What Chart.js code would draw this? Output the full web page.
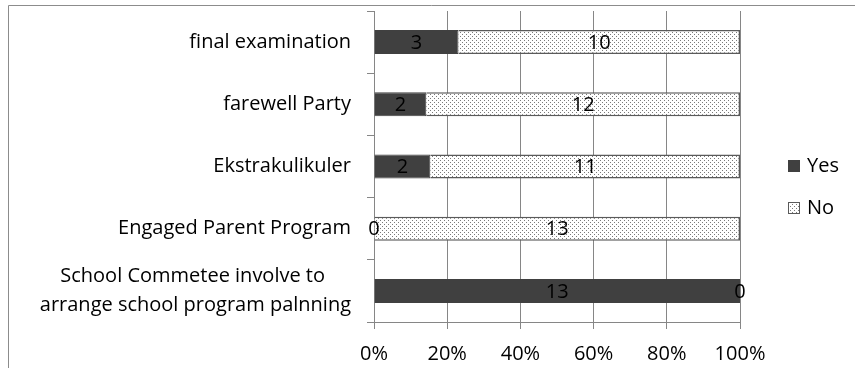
<!DOCTYPE html>
<html>
<head>
<meta charset="utf-8">
<script src="https://cdn.jsdelivr.net/npm/chart.js@4.4.0/dist/chart.umd.min.js"></script>
<style>
  body { margin: 0; background: #fff; }
  #wrap { position: absolute; left: 0; top: 0; width: 855px; height: 368px; }
</style>
</head>
<body>
<div id="wrap"><canvas id="grafico" width="855" height="368"></canvas></div>
<script>
// datos del grafico
var categorias = [
  'final examination',
  'farewell Party',
  'Ekstrakulikuler',
  'Engaged Parent Program',
  ['School Commetee involve to     ', 'arrange school program palnning']
];
var yes = [3, 2, 2, 0, 13];
var no = [10, 12, 11, 13, 0];
var ticksX = [0, 20, 40, 60, 80, 100];

var fuente = "'Open Sans', sans-serif";
var gris = '#868686';

// porcentajes para la barra 100%
function porcentaje(a, b){
  var res = [];
  for (var i = 0; i < a.length; i++) {
    var t = a[i] + b[i];
    res.push(t ? a[i] / t * 100 : 0);
  }
  return res;
}

// patron de puntos para "No"
function patronPuntos(){
  var c = document.createElement('canvas');
  c.width = 4; c.height = 4;
  var x = c.getContext('2d');
  x.fillStyle = '#fff';
  x.fillRect(0, 0, 4, 4);
  x.fillStyle = '#7a7a7a';
  x.fillRect(0, 0, 1, 1);
  x.fillRect(2, 2, 1, 1);
  return x.createPattern(c, 'repeat');
}

var ctx = document.getElementById('grafico').getContext('2d');
var puntos = patronPuntos();

// borde exterior, leyenda y etiquetas de valores
var extras = {
  id: 'extras',
  beforeDraw: function(chart){
    var c = chart.ctx;
    c.save();
    c.strokeStyle = '#8c8c8c';
    c.lineWidth = 1;
    c.beginPath();
    c.moveTo(8.5, 368);
    c.lineTo(8.5, 5.5);
    c.lineTo(855, 5.5);
    c.stroke();
    c.restore();
  },
  afterDatasetsDraw: function(chart){
    var c = chart.ctx;
    c.save();
    c.font = '20px ' + fuente;
    c.fillStyle = '#000';
    c.textAlign = 'center';
    c.textBaseline = 'middle';
    var cuentas = [yes, no];
    chart.data.datasets.forEach(function(ds, d){
      chart.getDatasetMeta(d).data.forEach(function(bar, i){
        var cx = (bar.x + bar.base) / 2;
        c.fillText(String(cuentas[d][i]), cx, bar.y + 1);
      });
    });
    c.restore();
  },
  afterDraw: function(chart){
    var c = chart.ctx;
    var x0 = chart.chartArea.right + 48;
    var ys = [166, 208];
    c.save();
    c.font = '20px ' + fuente;
    c.textBaseline = 'middle';
    c.textAlign = 'left';
    chart.data.datasets.forEach(function(ds, i){
      c.fillStyle = ds.backgroundColor;
      c.fillRect(x0, ys[i] - 6, 12, 12);
      c.strokeStyle = ds.borderColor;
      c.lineWidth = 1;
      c.strokeRect(x0 + 0.5, ys[i] - 5.5, 11, 11);
      c.fillStyle = '#000';
      c.fillText(ds.label, x0 + 19, ys[i]);
    });
    c.restore();
  }
};

new Chart(ctx, {
  type: 'bar',
  data: {
    labels: categorias,
    datasets: [{
      label: 'Yes',
      data: porcentaje(yes, no),
      backgroundColor: '#404040',
      borderColor: '#404040',
      borderWidth: 1,
      categoryPercentage: 0.386,
      barPercentage: 1
    }, {
      label: 'No',
      data: porcentaje(no, yes),
      backgroundColor: puntos,
      borderColor: '#5a5a5a',
      borderWidth: 1.5,
      categoryPercentage: 0.386,
      barPercentage: 1
    }]
  },
  options: {
    indexAxis: 'y',
    responsive: false,
    animation: false,
    layout: { padding: { top: 11, right: 115, left: 0, bottom: 0 } },
    plugins: {
      tooltip: { enabled: false },
      legend: { display: false }
    },
    scales: {
      x: {
        stacked: true,
        min: 0,
        max: 100,
        afterBuildTicks: function(axis){
          axis.ticks = ticksX.map(function(v){ return { value: v }; });
        },
        afterFit: function(axis){
          axis.height = 46;
          axis.paddingLeft = 0;
          axis.paddingRight = 0;
        },
        grid: { color: gris, lineWidth: 1, tickLength: 7 },
        border: { color: gris },
        ticks: {
          padding: 13,
          color: '#000',
          font: { family: fuente, size: 20 },
          callback: function(v){ return v + '%'; }
        }
      },
      y: {
        stacked: true,
        afterFit: function(axis){
          axis.width = 374;
          axis.paddingTop = 0;
          axis.paddingBottom = 0;
        },
        grid: { drawOnChartArea: false, color: gris, tickLength: 7 },
        border: { color: gris },
        ticks: {
          padding: 16,
          color: '#000',
          font: { family: fuente, size: 20, lineHeight: 1.45 },
          autoSkip: false
        }
      }
    }
  },
  plugins: [extras]
});
</script>
</body>
</html>
